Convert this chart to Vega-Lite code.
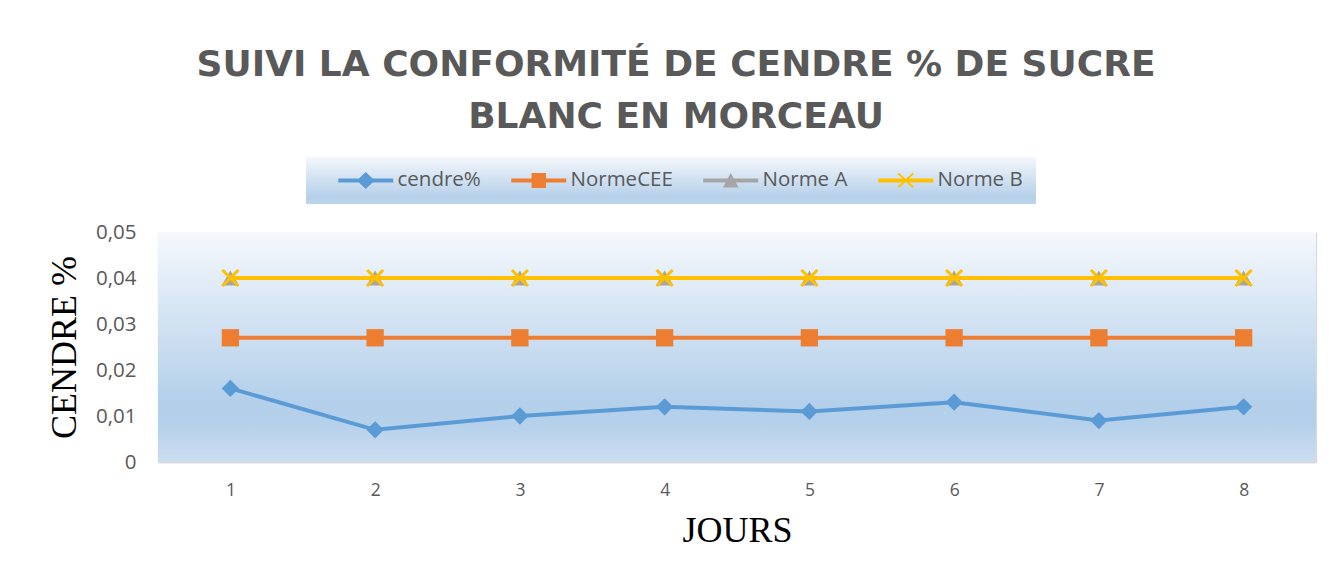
{
  "$schema": "https://vega.github.io/schema/vega-lite/v6.json",
  "width": 1158,
  "height": 230,
  "autosize": {"type": "none"},
  "padding": {"left": 158, "top": 232, "right": 20, "bottom": 116},
  "background": "white",
  "title": {
    "text": ["SUIVI LA CONFORMITÉ DE CENDRE % DE SUCRE", "BLANC EN MORCEAU"],
    "anchor": "middle",
    "frame": "group",
    "dx": -61,
    "offset": 21,
    "font": "DejaVu Sans",
    "fontSize": 36,
    "fontWeight": "bold",
    "color": "#595959",
    "lineHeight": 52
  },
  "view": {"stroke": null},
  "data": {
    "values": [
      {"jour": 1, "serie": "cendre%", "valeur": 0.016},
      {"jour": 2, "serie": "cendre%", "valeur": 0.007},
      {"jour": 3, "serie": "cendre%", "valeur": 0.010},
      {"jour": 4, "serie": "cendre%", "valeur": 0.012},
      {"jour": 5, "serie": "cendre%", "valeur": 0.011},
      {"jour": 6, "serie": "cendre%", "valeur": 0.013},
      {"jour": 7, "serie": "cendre%", "valeur": 0.009},
      {"jour": 8, "serie": "cendre%", "valeur": 0.012},
      {"jour": 1, "serie": "NormeCEE", "valeur": 0.027},
      {"jour": 2, "serie": "NormeCEE", "valeur": 0.027},
      {"jour": 3, "serie": "NormeCEE", "valeur": 0.027},
      {"jour": 4, "serie": "NormeCEE", "valeur": 0.027},
      {"jour": 5, "serie": "NormeCEE", "valeur": 0.027},
      {"jour": 6, "serie": "NormeCEE", "valeur": 0.027},
      {"jour": 7, "serie": "NormeCEE", "valeur": 0.027},
      {"jour": 8, "serie": "NormeCEE", "valeur": 0.027},
      {"jour": 1, "serie": "Norme A", "valeur": 0.04},
      {"jour": 2, "serie": "Norme A", "valeur": 0.04},
      {"jour": 3, "serie": "Norme A", "valeur": 0.04},
      {"jour": 4, "serie": "Norme A", "valeur": 0.04},
      {"jour": 5, "serie": "Norme A", "valeur": 0.04},
      {"jour": 6, "serie": "Norme A", "valeur": 0.04},
      {"jour": 7, "serie": "Norme A", "valeur": 0.04},
      {"jour": 8, "serie": "Norme A", "valeur": 0.04},
      {"jour": 1, "serie": "Norme B", "valeur": 0.04},
      {"jour": 2, "serie": "Norme B", "valeur": 0.04},
      {"jour": 3, "serie": "Norme B", "valeur": 0.04},
      {"jour": 4, "serie": "Norme B", "valeur": 0.04},
      {"jour": 5, "serie": "Norme B", "valeur": 0.04},
      {"jour": 6, "serie": "Norme B", "valeur": 0.04},
      {"jour": 7, "serie": "Norme B", "valeur": 0.04},
      {"jour": 8, "serie": "Norme B", "valeur": 0.04}
    ]
  },
  "layer": [
    {
      "transform": [{"filter": "datum.jour == 1 && datum.serie == 'cendre%'"}],
      "mark": {
        "type": "rect",
        "color": {
          "gradient": "linear",
          "x1": 0, "y1": 0, "x2": 0, "y2": 1,
          "stops": [
            {"offset": 0, "color": "#f5f8fc"},
            {"offset": 0.74, "color": "#b3cfea"},
            {"offset": 0.83, "color": "#b5d0eb"},
            {"offset": 1, "color": "#cbddf0"}
          ]
        }
      },
      "encoding": {}
    },
    {
      "encoding": {
        "x": {
          "field": "jour",
          "type": "ordinal",
          "scale": {"type": "band", "paddingInner": 0, "paddingOuter": 0},
          "axis": {
            "title": "JOURS",
            "titleFont": "Liberation Serif",
            "titleFontSize": 36,
            "titleFontWeight": "normal",
            "titleColor": "#000000",
            "titlePadding": 15,
            "labelFont": "Open Sans",
            "labelFontSize": 17.5,
            "labelColor": "#595959",
            "labelAngle": 0,
            "labelPadding": 19,
            "ticks": false,
            "tickBand": "extent",
            "grid": true,
            "gridColor": "#d9d9d9",
            "gridWidth": 1.3,
            "domainColor": "#d9d9d9",
            "domainWidth": 2
          }
        },
        "y": {
          "field": "valeur",
          "type": "quantitative",
          "scale": {"domain": [0, 0.05], "nice": false},
          "axis": {
            "title": "CENDRE %",
            "titleFont": "Liberation Serif",
            "titleFontSize": 36,
            "titleFontWeight": "normal",
            "titleColor": "#000000",
            "titlePadding": 12,
            "values": [0, 0.01, 0.02, 0.03, 0.04, 0.05],
            "labelExpr": "datum.value == 0 ? '0' : replace(format(datum.value, '.2f'), '.', ',')",
            "labelFont": "Open Sans",
            "labelFontSize": 20.5,
            "labelColor": "#595959",
            "labelPadding": 22,
            "ticks": false,
            "domain": false,
            "grid": false
          }
        },
        "color": {
          "field": "serie",
          "type": "nominal",
          "scale": {
            "domain": ["cendre%", "NormeCEE", "Norme A", "Norme B"],
            "range": ["#5B9BD5", "#ED7D31", "#A5A5A5", "#FFC000"]
          },
          "legend": {
            "orient": "none",
            "legendX": 148,
            "legendY": -75,
            "direction": "horizontal",
            "title": null,
            "padding": 13,
            "symbolOffset": 36.5,
            "fillColor": "#cadcef",
            "labelFont": "Open Sans",
            "labelFontSize": 20.5,
            "labelColor": "#595959",
            "labelOffset": 21.5,
            "columnPadding": 11,
            "symbolSize": 400,
            "symbolStrokeWidth": 0,
            "symbolType": "square",
            "encode": {
              "legend": {
                "update": {
                  "fill": {
                    "value": {
                      "gradient": "linear",
                      "x1": 0, "y1": 0, "x2": 0, "y2": 1,
                      "stops": [
                        {"offset": 0, "color": "#f4f7fb"},
                        {"offset": 0.85, "color": "#b5d0ea"},
                        {"offset": 1, "color": "#bcd5ec"}
                      ]
                    }
                  }
                }
              },
              "symbols": {
                "update": {
                  "fill": {"scale": "color", "field": "value"},
                  "fillOpacity": {"value": 1},
                  "strokeWidth": {"value": 0},
                  "shape": {
                    "signal": "datum.value == 'cendre%' ? 'M-2.75,-0.2L2.75,-0.2L2.75,0.2L-2.75,0.2Z M0,-0.85L0.9,0L0,0.85L-0.9,0Z' : datum.value == 'NormeCEE' ? 'M-2.75,-0.2L2.75,-0.2L2.75,0.2L-2.75,0.2Z M-0.72,-0.75L0.72,-0.75L0.72,0.75L-0.72,0.75Z' : datum.value == 'Norme A' ? 'M-2.75,-0.2L2.75,-0.2L2.75,0.2L-2.75,0.2Z M0,-0.75L0.78,0.7L-0.78,0.7Z' : 'M-2.75,-0.2L2.75,-0.2L2.75,0.2L-2.75,0.2Z M-0.68,-0.77L0.82,0.63L0.68,0.77L-0.82,-0.63Z M-0.82,0.63L0.68,-0.77L0.82,-0.63L-0.68,0.77Z'"
                  }
                }
              }
            }
          }
        }
      },
      "layer": [
        {
          "transform": [{"filter": "datum.serie != 'Norme B'"}],
          "mark": {"type": "line", "strokeWidth": 4},
          "encoding": {}
        },
        {
          "transform": [{"filter": "datum.serie != 'Norme B'"}],
          "mark": {"type": "point", "filled": true, "opacity": 1, "size": 300},
          "encoding": {
            "shape": {
              "field": "serie",
              "type": "nominal",
              "scale": {
                "domain": ["cendre%", "NormeCEE", "Norme A"],
                "range": ["diamond", "square", "triangle-up"]
              },
              "legend": null
            }
          }
        },
        {
          "transform": [{"filter": "datum.serie == 'Norme B'"}],
          "mark": {"type": "line", "strokeWidth": 4},
          "encoding": {}
        },
        {
          "transform": [{"filter": "datum.serie == 'Norme B'"}],
          "mark": {"type": "point", "filled": true, "opacity": 1, "size": 256, "shape": "M-0.86,-1.14L1.14,0.86L0.86,1.14L-1.14,-0.86Z M-1.14,0.86L0.86,-1.14L1.14,-0.86L-0.86,1.14Z"},
          "encoding": {}
        }
      ]
    }
  ]
}
